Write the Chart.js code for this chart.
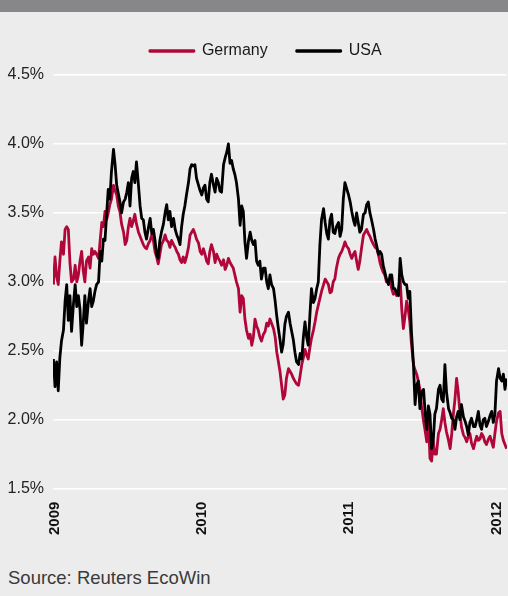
<!DOCTYPE html>
<html>
<head>
<meta charset="utf-8">
<title>Germany vs USA yields</title>
<script src="https://cdn.jsdelivr.net/npm/chart.js@4.4.1/dist/chart.umd.min.js"></script>
<style>
  body { margin: 0; background: #ebeceb; font-family: 'Liberation Sans', Arial, sans-serif; }
  #page { position: relative; width: 508px; height: 596px; overflow: hidden; background: #ebeceb; }
  #band { position: absolute; left: 0; top: 0; width: 508px; height: 12px; background: #878789; }
  #wrap { position: absolute; left: 0; top: 12px; width: 508px; height: 538px; }
  #source { position: absolute; left: 8px; top: 569px; font-size: 18.5px; line-height: 1; color: #3a3a3a; }
</style>
</head>
<body>
<div id="page">
  <div id="band"></div>
  <div id="wrap"><canvas id="myChart"></canvas></div>
  <div id="source">Source: Reuters EcoWin</div>
</div>
<script>
'use strict';

// days since 1 Jan 2009
let days = [
  -4,0,4, 8,12,16, 21,25,29, 33,37,41, 46,50,54,
  58,62,66, 70,74,78, 83,87,91, 95,99,103, 108,112,116,
  120,124,128, 132,136,140, 145,149,153, 157,161,165, 170,174,178,
  182,186,190, 194,198,202, 207,211,215, 219,223,227, 232,236,240,
  244,248,252, 256,260,264, 269,273,277, 281,285,289, 294,298,302,
  306,310,314, 318,322,326, 331,335,339, 343,347,351, 356,360,364,
  368,372,376, 380,384,388, 393,397,401, 405,409,413, 418,422,426,
  430,434,438, 442,446,450, 455,459,463, 467,471,475, 480,484,488,
  492,496,500, 504,508,512, 517,521,525, 529,533,537, 542,546,550,
  554,558,562, 566,570,574, 579,583,587, 591,595,599, 604,608,612,
  616,620,624, 628,632,636, 641,645,649, 653,657,661, 666,670,674,
  678,682,686, 690,694,698, 703,707,711, 715,719,723, 728,732,736,
  740,744,748, 752,756,760, 765,769,773, 777,781,785, 790,794,798,
  802,806,810, 814,818,822, 827,831,835, 839,843,847, 852,856,860,
  864,868,872, 876,880,884, 889,893,897, 901,905,909, 914,918,922,
  926,930,934, 938,942,946, 951,955,959, 963,967,971, 976,980,984,
  988,992,996, 1000,1004,1008, 1013,1017,1021, 1025,1029,1033, 1038,1042,1046,
  1050,1054,1058, 1062,1066,1070, 1075,1079,1083, 1087,1091,1095, 1100,1104,1108,
  1112,1116,1120
];

let germany = [
  2.98,3.18,3.04, 2.98,3.15,3.29, 3.2,3.38,3.4, 3.38,3.14,3.0, 3.02,3.12,3.0,
  3.05,3.15,3.22, 3.08,3.0,3.15, 3.18,3.1,3.24, 3.2,3.22,3.2, 3.17,3.3,3.43,
  3.4,3.51,3.45, 3.5,3.56,3.6, 3.7,3.66,3.63, 3.55,3.51,3.42, 3.36,3.27,3.3,
  3.4,3.46,3.4, 3.44,3.49,3.42, 3.36,3.33,3.3, 3.27,3.25,3.24, 3.28,3.3,3.34,
  3.3,3.22,3.18, 3.13,3.2,3.27, 3.3,3.34,3.3, 3.29,3.25,3.3, 3.27,3.25,3.22,
  3.2,3.16,3.14, 3.18,3.14,3.18, 3.25,3.34,3.36, 3.38,3.35,3.31, 3.28,3.22,3.2,
  3.24,3.2,3.15, 3.13,3.22,3.27, 3.22,3.14,3.2, 3.17,3.15,3.12, 3.16,3.09,3.12,
  3.17,3.14,3.12, 3.1,3.05,3.0, 2.95,2.78,2.9, 2.88,2.73,2.65, 2.59,2.62,2.54,
  2.6,2.73,2.68, 2.65,2.6,2.57, 2.62,2.64,2.7, 2.68,2.73,2.7, 2.66,2.6,2.49,
  2.42,2.35,2.25, 2.15,2.18,2.3, 2.37,2.35,2.33, 2.3,2.28,2.26, 2.25,2.32,2.4,
  2.45,2.51,2.47, 2.44,2.52,2.59, 2.65,2.71,2.78, 2.83,2.88,2.93, 2.98,3.02,3.0,
  2.98,2.92,2.93, 3.0,3.02,3.1, 3.17,3.2,3.22, 3.25,3.29,3.26, 3.24,3.2,3.17,
  3.2,3.22,3.15, 3.09,3.15,3.24, 3.34,3.36,3.38, 3.35,3.33,3.3, 3.27,3.25,3.24,
  3.2,3.14,3.1, 3.07,3.05,3.0, 3.0,3.02,2.95, 2.91,2.93,2.9, 2.95,3.02,2.8,
  2.66,2.75,2.86, 2.8,2.71,2.55, 2.4,2.36,2.33, 2.28,2.22,2.1, 1.99,1.92,1.84,
  2.0,1.72,1.7, 1.84,1.75,1.75, 1.9,1.93,2.0, 2.08,1.98,1.91, 1.85,1.79,1.9,
  2.04,2.15,2.3, 2.2,2.06,1.95, 1.89,1.87,1.84, 1.88,1.9,1.83, 1.79,1.84,1.88,
  1.85,1.86,1.9, 1.88,1.84,1.82, 1.86,1.88,1.84, 1.8,1.9,1.99, 2.05,2.06,1.9,
  1.85,1.82,1.79
];

let usa = [
  2.44,2.24,2.42, 2.21,2.45,2.57, 2.65,2.86,2.98, 2.72,2.9,2.64, 2.85,2.98,2.82,
  2.9,2.8,2.54, 2.7,2.9,2.7, 2.86,2.95,2.82, 2.86,2.93,2.98, 3.0,3.22,3.15,
  3.31,3.3,3.49, 3.67,3.6,3.8, 3.96,3.85,3.7, 3.64,3.58,3.5, 3.58,3.6,3.65,
  3.72,3.55,3.75, 3.8,3.72,3.87, 3.7,3.55,3.46, 3.45,3.36,3.31, 3.4,3.46,3.35,
  3.38,3.3,3.2, 3.17,3.3,3.36, 3.42,3.5,3.56, 3.45,3.51,3.4, 3.46,3.38,3.34,
  3.31,3.27,3.4, 3.49,3.55,3.63, 3.72,3.82,3.85, 3.84,3.85,3.75, 3.7,3.66,3.63,
  3.68,3.7,3.6, 3.58,3.72,3.78, 3.7,3.65,3.75, 3.72,3.66,3.65, 3.85,3.9,3.94,
  4.0,3.86,3.88, 3.82,3.78,3.72, 3.6,3.41,3.55, 3.51,3.29,3.17, 3.3,3.36,3.3,
  3.27,3.3,3.15, 3.12,3.15,3.02, 3.1,3.1,3.0, 2.95,3.05,2.98, 2.95,2.86,2.75,
  2.66,2.58,2.49, 2.55,2.69,2.75, 2.78,2.7,2.64, 2.58,2.49,2.42, 2.4,2.48,2.44,
  2.6,2.71,2.6, 2.54,2.75,2.95, 2.85,2.88,2.95, 3.0,3.27,3.45, 3.53,3.43,3.35,
  3.31,3.45,3.49, 3.36,3.35,3.4, 3.43,3.33,3.38, 3.6,3.72,3.68, 3.63,3.58,3.51,
  3.45,3.41,3.5, 3.43,3.36,3.38, 3.49,3.5,3.56, 3.58,3.5,3.45, 3.38,3.31,3.26,
  3.2,3.22,3.2, 3.12,3.07,3.02, 2.98,3.05,3.05, 2.95,2.95,2.92, 2.9,3.17,3.05,
  3.0,2.98,2.98, 2.88,2.93,2.64, 2.4,2.11,2.25, 2.28,2.08,2.2, 2.22,2.05,1.93,
  2.1,2.04,1.79, 1.84,2.04,2.08, 2.22,2.25,2.15, 2.13,2.4,2.2, 2.08,2.05,2.01,
  2.0,1.93,2.02, 2.06,2.0,2.11, 2.02,1.99,1.95, 1.89,1.98,2.01, 1.95,1.95,2.0,
  2.06,1.96,1.93, 2.0,2.01,1.95, 1.99,2.03,2.06, 1.98,2.04,2.28, 2.37,2.3,2.28,
  2.33,2.22,2.3
];

let yearTicks = [0, 365, 730, 1095];
let yearLabels = ['2009', '2010', '2011', '2012'];
let yTicks = [1.5, 2.0, 2.5, 3.0, 3.5, 4.0, 4.5];

function toPoints(values) {
  let points = [];
  for (let i = 0; i < days.length; i++) {
    points.push({ x: days[i], y: values[i] });
  }
  return points;
}

// a bit of room under the legend and nudge it right like the original
let legendTweak = {
  id: 'legendTweak',
  beforeInit(chart) {
    let fit = chart.legend.fit;
    chart.legend.fit = function () {
      fit.call(this);
      this.height += 6;
    };
  },
  afterLayout(chart) {
    chart.legend.left += 17;
  }
};

Chart.defaults.font.family = "'Liberation Sans', Arial, sans-serif";

let ctx = document.getElementById('myChart').getContext('2d');

let chart = new Chart(ctx, {
  type: 'line',
  data: {
    datasets: [
      {
        label: 'Germany',
        data: toPoints(germany),
        borderColor: '#b1063a',
        backgroundColor: '#b1063a',
        borderWidth: 2.8,
        borderJoinStyle: 'round',
        pointRadius: 0,
        order: 1
      },
      {
        label: 'USA',
        data: toPoints(usa),
        borderColor: '#000000',
        backgroundColor: '#000000',
        borderWidth: 2.8,
        borderJoinStyle: 'round',
        pointRadius: 0,
        order: 0
      }
    ]
  },
  options: {
    responsive: true,
    maintainAspectRatio: false,
    animation: false,
    devicePixelRatio: 1,
    layout: { padding: { left: 7.5, right: 1, top: 2, bottom: 2 } },
    plugins: {
      legend: {
        position: 'top',
        labels: {
          boxWidth: 44,
          boxHeight: 0.5,
          padding: 29,
          color: '#1a1a1a',
          font: { size: 16 },
          sort: (a, b) => a.datasetIndex - b.datasetIndex
        }
      },
      tooltip: { enabled: false }
    },
    scales: {
      x: {
        type: 'linear',
        min: -5,
        max: 1121,
        grid: { display: false, drawTicks: false },
        border: { display: false },
        afterBuildTicks: scale => { scale.ticks = yearTicks.map(v => ({ value: v })); },
        afterFit: scale => { scale.paddingLeft = 0; scale.paddingRight = 0; },
        ticks: {
          autoSkip: false,
          minRotation: 90,
          maxRotation: 90,
          padding: 13,
          color: '#111111',
          font: { size: 15, weight: 'bold' },
          callback: v => yearLabels[yearTicks.indexOf(v)]
        }
      },
      y: {
        min: 1.5,
        max: 4.5,
        grid: { color: '#ffffff', lineWidth: 1.5, drawTicks: false },
        border: { display: false },
        afterBuildTicks: scale => { scale.ticks = yTicks.map(v => ({ value: v })); },
        afterFit: scale => { scale.width = 45.5; },
        ticks: {
          padding: 9,
          color: '#222222',
          font: { size: 16 },
          callback: v => v.toFixed(1) + '%'
        }
      }
    }
  },
  plugins: [legendTweak]
});
</script>
</body>
</html>
